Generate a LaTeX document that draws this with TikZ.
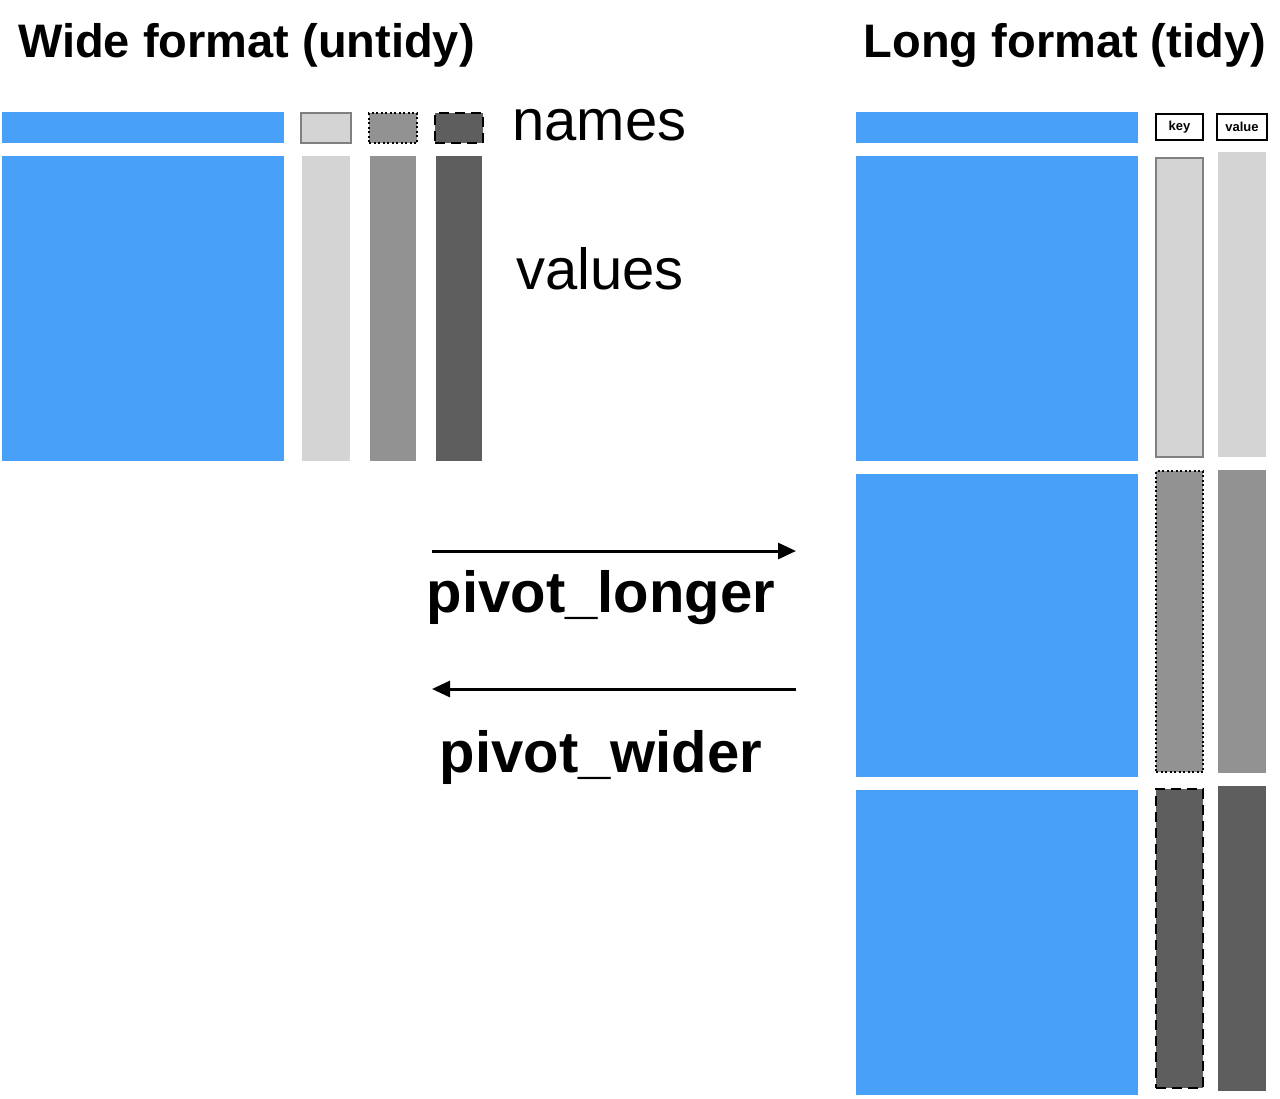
\documentclass[tikz,border=0pt]{standalone}
\usepackage{fontspec}
\setmainfont{Liberation Sans}
\usetikzlibrary{arrows.meta}
\definecolor{tblue}{RGB}{72,160,248}
\definecolor{glight}{RGB}{212,212,212}
\definecolor{gmid}{RGB}{146,146,146}
\definecolor{gdark}{RGB}{94,94,94}
\definecolor{gborder}{RGB}{128,128,128}
\tikzset{
  x=1pt, y=-1pt,
  cell/.style={anchor=north west, inner sep=0pt, outer sep=0pt, draw=none},
  blue/.style={cell, fill=tblue},
  lightc/.style={cell, fill=glight},
  midc/.style={cell, fill=gmid},
  darkc/.style={cell, fill=gdark},
  lightb/.style={cell, fill=glight, draw=gborder, line width=2pt},
  midb/.style={cell, fill=gmid, draw=black, line width=2pt, dash pattern=on 2pt off 2.5pt},
  darkb/.style={cell, fill=gdark, draw=black, line width=2.2pt, dash pattern=on 10pt off 6pt},
  labbox/.style={cell, fill=white, draw=black, line width=2pt, font=\bfseries\fontsize{13}{14}\selectfont},
  title/.style={inner sep=0pt, font=\bfseries\fontsize{47}{50}\selectfont},
  big/.style={inner sep=0pt, font=\fontsize{58}{60}\selectfont},
  bigb/.style={inner sep=0pt, font=\bfseries\fontsize{58}{60}\selectfont},
  arr/.style={line width=3pt, -{Triangle[length=18pt, width=16pt]}}
}
\begin{document}
\begin{tikzpicture}
\useasboundingbox (0,0) rectangle (1280,1098);
% titles
\node[title, anchor=base west] (tw) at (18,57) {Wide format (untidy)};
\node[title, anchor=base east] (tl) at (1266,57) {Long format (tidy)};
% left: wide format
\node[blue, minimum width=282, minimum height=31] (wh) at (2,112) {};
\node[blue, minimum width=282, minimum height=305] (wb) at (2,156) {};
\node[lightb, minimum width=50, minimum height=30] (wh1) at (301,113) {};
\node[midb, minimum width=48, minimum height=30] (wh2) at (369,113) {};
\node[darkb, minimum width=48, minimum height=30] (wh3) at (435,113) {};
\node[lightc, minimum width=48, minimum height=305] (wc1) at (302,156) {};
\node[midc, minimum width=46, minimum height=305] (wc2) at (370,156) {};
\node[darkc, minimum width=46, minimum height=305] (wc3) at (436,156) {};
\node[big, anchor=base west] (names) at (512,140) {names};
\node[big, anchor=base west] (values) at (516,289) {values};
% arrows
\coordinate (a1s) at (432,551);
\coordinate (a1e) at (796,551);
\coordinate (a2s) at (796,689);
\coordinate (a2e) at (432,689);
\draw[arr] (a1s) -- (a1e);
\draw[arr] (a2s) -- (a2e);
\node[bigb, anchor=base] (pl) at (601,612) {pivot\_longer};
\node[bigb, anchor=base] (pw) at (601,772) {pivot\_wider};
% right: long format
\node[blue, minimum width=282, minimum height=31] (lh) at (856,112) {};
\node[labbox, minimum width=47, minimum height=26] (key) at (1156,114) {key};
\node[labbox, minimum width=50, minimum height=26] (val) at (1217,114) {value};
\node[blue, minimum width=282, minimum height=305] (lb1) at (856,156) {};
\node[blue, minimum width=282, minimum height=303] (lb2) at (856,474) {};
\node[blue, minimum width=282, minimum height=305] (lb3) at (856,790) {};
\node[lightb, minimum width=47, minimum height=299] (k1) at (1156,158) {};
\node[midb, minimum width=47, minimum height=301] (k2) at (1156,471) {};
\node[darkb, minimum width=47, minimum height=299] (k3) at (1156,789) {};
\node[lightc, minimum width=48, minimum height=305] (v1) at (1218,152) {};
\node[midc, minimum width=48, minimum height=303] (v2) at (1218,470) {};
\node[darkc, minimum width=48, minimum height=305] (v3) at (1218,786) {};
\end{tikzpicture}
\end{document}
